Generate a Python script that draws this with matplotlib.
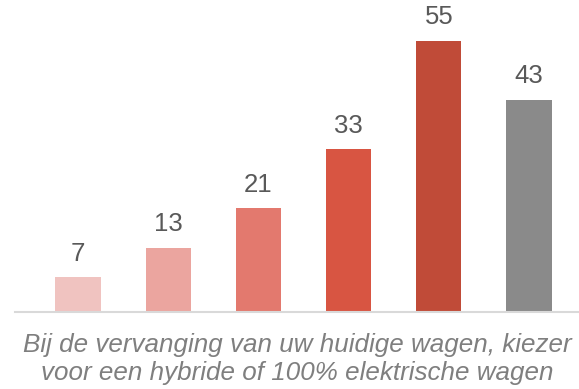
import matplotlib
matplotlib.use("Agg")
import matplotlib.pyplot as plt

categories = ["A", "B", "C", "D", "E", "F"]
values = [7, 13, 21, 33, 55, 43]
colors = ["#F0C3C0", "#EBA59F", "#E3796E", "#D85542", "#C04B38", "#8A8A8A"]
title_lines = ["Bij de vervanging van uw huidige wagen, kiezer",
               "voor een hybride of 100% elektrische wagen"]

plt.rcParams["font.family"] = ["Liberation Sans", "DejaVu Sans"]

W, H = 579, 389
fig = plt.figure(figsize=(W / 100, H / 100), dpi=100)
ax = fig.add_axes([15 / W, 77 / H, (W - 15) / W, (H - 77) / H])

x = list(range(len(categories)))
ax.bar(x, values, width=0.5, color=colors, zorder=2)
for xi, v in zip(x, values):
    ax.annotate(str(v), (xi, v), xytext=(0, 12), textcoords="offset points",
                ha="center", va="baseline", fontsize=18.5, color="#595959")

ax.set_xlim(-0.698, 5.554)
ax.set_ylim(0, 312 / 4.93)
for side in ["top", "right", "left"]:
    ax.spines[side].set_visible(False)
ax.spines["bottom"].set_color("#D9D9D9")
ax.spines["bottom"].set_linewidth(1.5)
ax.set_xticks([])
ax.set_yticks([])

for line, base in zip(title_lines, [352, 380]):
    fig.text(297 / W, 1 - base / H, line, ha="center", va="baseline",
             fontsize=18.7, style="italic", color="#7F7F7F")

fig.savefig("out.png", dpi=100)
